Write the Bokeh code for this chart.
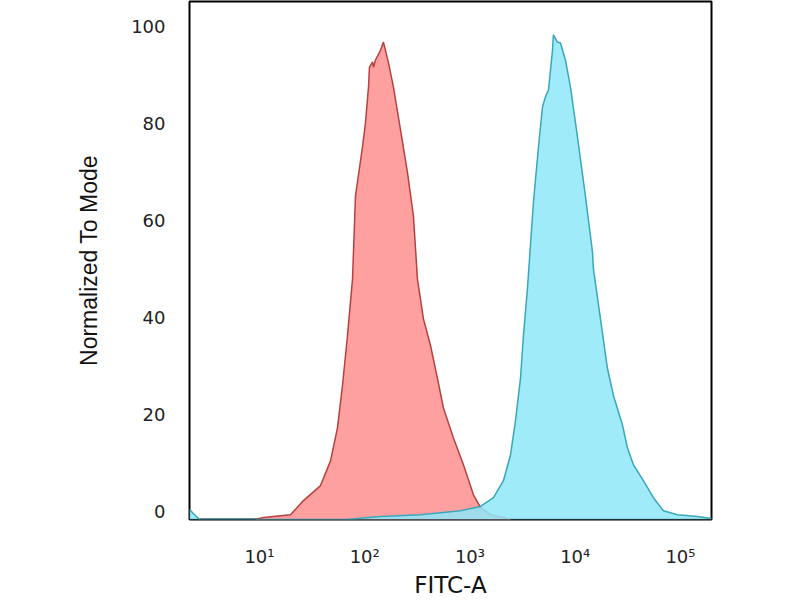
import numpy as np
from bokeh.plotting import figure
from bokeh.models import Range1d, LinearAxis, FixedTicker, CustomJSTickFormatter
from bokeh.embed import file_html
from bokeh.resources import INLINE

# FITC-A intensity positions (log10 of the intensity) and % of mode
red_log10 = [0.962, 1.038, 1.295, 1.418, 1.580, 1.675, 1.741, 1.789, 1.836, 1.884,
             1.912, 1.979, 2.007, 2.036, 2.045, 2.074, 2.083, 2.102, 2.150, 2.178,
             2.226, 2.273, 2.340, 2.406, 2.463, 2.501, 2.558, 2.625, 2.691, 2.748,
             2.843, 2.938, 3.033, 3.100, 3.195, 3.318, 3.385]
red_pct = [0.0, 0.4, 1.0, 3.9, 7.0, 12.1, 18.9, 27.7, 37.9, 49.6,
           66.7, 76.9, 81.8, 89.2, 93.3, 94.4, 93.3, 94.8, 96.8, 98.5,
           94.2, 89.2, 80.4, 71.6, 62.6, 49.6, 41.4, 35.9, 29.1, 23.0,
           16.8, 11.3, 5.1, 2.5, 1.0, 0.4, 0.0]

blue_log10 = [0.335, 0.373, 0.420, 0.439, 1.817, 2.150, 2.530, 2.910, 3.100, 3.223,
              3.318, 3.385, 3.432, 3.480, 3.508, 3.546, 3.603, 3.651, 3.689, 3.717,
              3.746, 3.765, 3.784, 3.793, 3.831, 3.860, 3.907, 3.955, 4.021, 4.097,
              4.164, 4.173, 4.240, 4.306, 4.363, 4.449, 4.496, 4.553, 4.648, 4.743,
              4.838, 4.972, 5.162, 5.295]
blue_pct = [2.1, 1.2, 0.2, 0.0, 0.0, 0.6, 1.0, 1.8, 2.7, 4.5,
            8.0, 13.3, 20.3, 29.1, 37.9, 47.6, 65.4, 76.9, 85.1, 87.2,
            88.6, 92.7, 96.8, 100.0, 98.5, 98.3, 94.8, 89.2, 79.0, 66.7,
            55.2, 51.7, 41.4, 31.2, 25.6, 19.5, 14.8, 11.3, 8.0, 4.5,
            1.8, 1.0, 0.6, 0.2]

x_ticks = [10, 100, 1000, 10000, 100000]
y_ticks = [0, 20, 40, 60, 80, 100]

red_x = np.power(10.0, red_log10)
blue_x = np.power(10.0, blue_log10)

p = figure(width=800, height=600, x_axis_type="log",
           x_range=Range1d(2.163, 197240), y_range=Range1d(0, 106.87),
           y_axis_location=None,
           output_backend="svg", toolbar_location=None,
           min_border_left=189, min_border_right=89,
           min_border_top=1, min_border_bottom=78)
p.background_fill_color = "white"
p.border_fill_color = "white"
p.outline_line_color = "black"
p.outline_line_width = 2
p.xgrid.visible = False
p.ygrid.visible = False

p.varea(x=red_x, y1=0, y2=red_pct, fill_color="#FFA0A0")
p.line(red_x, red_pct, line_color="#B5413F", line_width=1.5)
p.varea(x=blue_x, y1=0, y2=blue_pct, fill_color="#8FE8F9", fill_alpha=0.85)
p.line(blue_x, blue_pct, line_color="#3AA6B9", line_width=1.5)

# x axis
xa = p.xaxis[0]
xa.ticker = FixedTicker(ticks=x_ticks)
xa.formatter = CustomJSTickFormatter(code="""
const sup = ["\\u2070", "\\u00b9", "\\u00b2", "\\u00b3", "\\u2074", "\\u2075"];
const e = Math.round(Math.log10(tick));
return "10" + sup[e];
""")
xa.axis_line_color = None
xa.major_tick_line_color = None
xa.minor_tick_line_color = None
xa.major_tick_in = 0
xa.major_tick_out = 0
xa.major_label_standoff = 26
xa.major_label_text_font = "DejaVu Sans"
xa.major_label_text_font_size = "18px"
xa.major_label_text_color = "#222222"
xa.axis_label = "FITC-A"
xa.axis_label_text_font = "DejaVu Sans"
xa.axis_label_text_font_size = "23px"
xa.axis_label_text_font_style = "normal"
xa.axis_label_text_color = "#111111"
xa.axis_label_standoff = 2

# y axis labelled on its own range (labels sit slightly above the baseline)
p.extra_y_ranges = {"lab": Range1d(-1.744, 105.13)}
ya = LinearAxis(y_range_name="lab", ticker=FixedTicker(ticks=y_ticks))
ya.axis_line_color = None
ya.major_tick_line_color = None
ya.minor_tick_line_color = None
ya.major_tick_in = 0
ya.major_tick_out = 0
ya.major_label_standoff = 24
ya.major_label_text_font = "DejaVu Sans"
ya.major_label_text_font_size = "18px"
ya.major_label_text_color = "#222222"
ya.axis_label = "Normalized To Mode"
ya.axis_label_text_font = "Liberation Sans"
ya.axis_label_text_font_size = "23px"
ya.axis_label_text_font_style = "normal"
ya.axis_label_text_color = "#111111"
ya.axis_label_standoff = 26
p.add_layout(ya, "left")

open("out.html", "w").write(file_html(p, INLINE))
